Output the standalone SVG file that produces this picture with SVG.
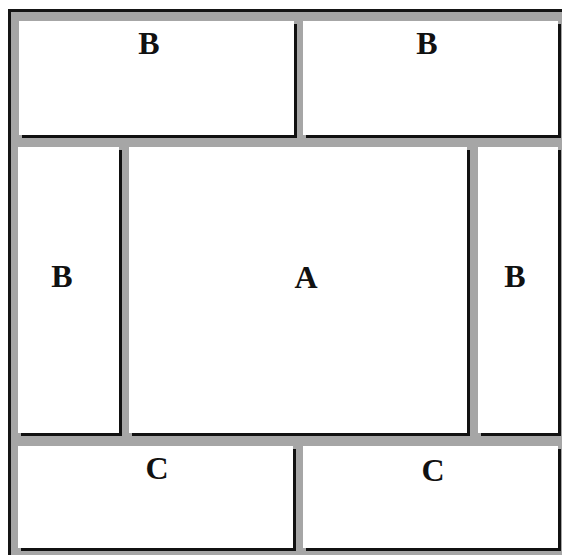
<svg xmlns="http://www.w3.org/2000/svg" width="562" height="555" viewBox="0 0 562 555">
  <style>
    .box { fill: #ffffff; }
    .shadow { fill: #111111; }
    .lbl { font-family: "Liberation Serif", "Times New Roman", serif; font-weight: bold; font-size: 32px; fill: #111111; text-anchor: middle; }
  </style>
  <rect x="0" y="0" width="562" height="555" fill="#ffffff"/>
  <g id="frame">
    <rect x="8" y="9" width="554" height="546" fill="#a6a6a6"/>
    <rect x="8" y="9" width="554" height="3" fill="#151515"/>
    <rect x="8" y="9" width="3" height="546" fill="#151515"/>
  </g>
  <g id="b-top-left">
    <rect class="shadow" x="22" y="24" width="275" height="114"/>
    <rect class="box" x="19" y="21" width="275" height="114"/>
    <text class="lbl" x="149" y="54">B</text>
  </g>
  <g id="b-top-right">
    <rect class="shadow" x="306" y="24" width="255" height="114"/>
    <rect class="box" x="303" y="21" width="255" height="114"/>
    <text class="lbl" x="427" y="54">B</text>
  </g>
  <g id="b-mid-left">
    <rect class="shadow" x="21" y="150" width="101" height="286"/>
    <rect class="box" x="18" y="147" width="101" height="286"/>
    <text class="lbl" x="62" y="287">B</text>
  </g>
  <g id="a-center">
    <rect class="shadow" x="132" y="150" width="338" height="286"/>
    <rect class="box" x="129" y="147" width="338" height="286"/>
    <text class="lbl" x="306" y="288">A</text>
  </g>
  <g id="b-mid-right">
    <rect class="shadow" x="481" y="150" width="80" height="286"/>
    <rect class="box" x="478" y="147" width="80" height="286"/>
    <text class="lbl" x="515" y="287">B</text>
  </g>
  <g id="c-bottom-left">
    <rect class="shadow" x="21" y="449" width="275" height="102"/>
    <rect class="box" x="18" y="446" width="275" height="102"/>
    <text class="lbl" x="157" y="479">C</text>
  </g>
  <g id="c-bottom-right">
    <rect class="shadow" x="306" y="449" width="255" height="102"/>
    <rect class="box" x="303" y="446" width="255" height="102"/>
    <text class="lbl" x="433" y="481">C</text>
  </g>
</svg>
